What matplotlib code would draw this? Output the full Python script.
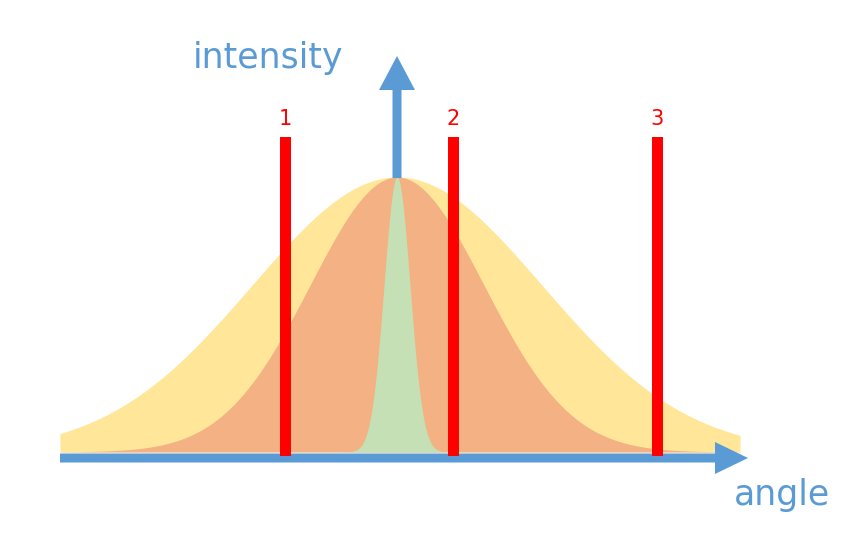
import numpy as np
import matplotlib.pyplot as plt
from matplotlib.patches import FancyArrow

W, H = 842, 541
center = 397
peak_height = 275
baseline = 452
sigmas = [145, 87, 13]
curve_colors = ['#FFE699', '#F4B183', '#C5E0B4']
bar_x = [285, 453, 657]
bar_labels = ['1', '2', '3']
bar_top = 137

fig = plt.figure(figsize=(W/100, H/100), dpi=100)
ax = fig.add_axes([0, 0, 1, 1])
ax.set_xlim(0, W); ax.set_ylim(H, 0); ax.axis('off')

x = np.linspace(60, 740, 1500)
for s, c in zip(sigmas, curve_colors):
    y = peak_height*np.exp(-(x-center)**2/(2*s**2))
    ax.fill_between(x, baseline, baseline-y, color=c, lw=0, zorder=1)

for bx, lab in zip(bar_x, bar_labels):
    ax.bar(bx, baseline+4-bar_top, bottom=bar_top, width=11, color='#FF0000', zorder=3)
    ax.text(bx, bar_top-8, lab, color='#FF0000', fontsize=15, ha='center', va='bottom', zorder=4)

blue = '#5B9BD5'
ax.add_patch(FancyArrow(60, 458, 655, 0, width=9, head_width=32, head_length=33,
                        length_includes_head=False, color=blue, lw=0, zorder=2))
ax.add_patch(FancyArrow(397, 178, 0, -88, width=9, head_width=36, head_length=34,
                        color=blue, lw=0, zorder=2))
ax.text(268, 58, 'intensity', color=blue, fontsize=25, ha='center', va='center')
ax.text(782, 495, 'angle', color=blue, fontsize=25, ha='center', va='center')

fig.savefig('out.png', dpi=100)
